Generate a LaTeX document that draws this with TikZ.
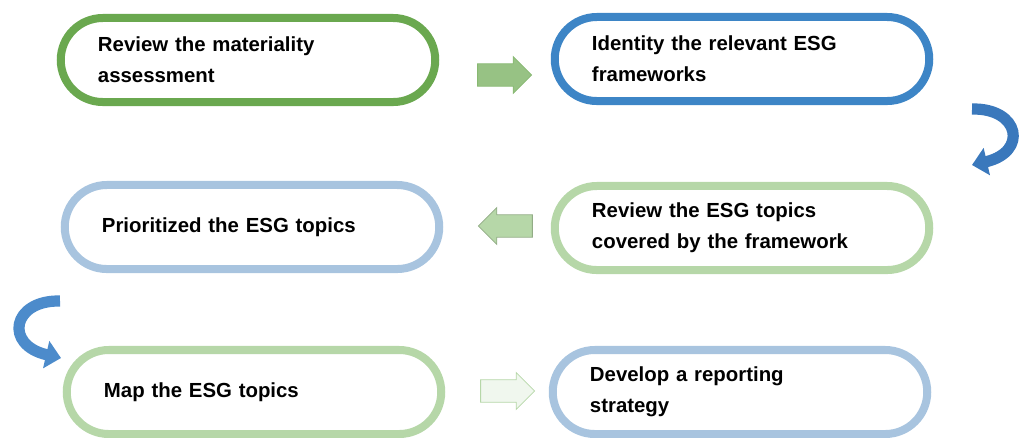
\documentclass[tikz,border=0pt]{standalone}
\usepackage{fontspec}
\setmainfont{Liberation Sans}
\usetikzlibrary{shapes.arrows,arrows.meta,positioning}
\definecolor{darkgreen}{HTML}{6AA84F}
\definecolor{darkblue}{HTML}{3D85C6}
\definecolor{paleblue}{HTML}{A8C4DF}
\definecolor{palegreen}{HTML}{B6D7A8}
\definecolor{curveblue}{HTML}{3A78BC}
\definecolor{curveblue2}{HTML}{4C8BCB}
\begin{document}
\begin{tikzpicture}[x=0.025cm,y=-0.025cm,
	stepbox/.style={draw,line width=0.2cm,rounded corners=1.05cm,fill=white,
		minimum height=2.1cm,text width=7.5cm,inner xsep=0.93cm,align=left,
		font=\fontsize{14.5}{22}\selectfont\bfseries},
	blockarrow/.style={single arrow,draw,line width=0.6pt,inner xsep=0pt,inner ysep=0.27cm,
		minimum height=1.35cm,single arrow head extend=0.18cm},
	curvearrow/.style={line width=0.28cm,-{Triangle[width=0.68cm,length=0.38cm]}}]
	\useasboundingbox (0,0) rectangle (1021,437);
	% the six steps
	\node[stepbox,draw=darkgreen] (review) at (248,60) {Review the materiality\\assessment};
	\node[stepbox,draw=darkblue] (identify) at (742,59) {Identity the relevant ESG\\frameworks};
	\node[stepbox,draw=paleblue] (prioritize) at (252,227) {Prioritized the ESG topics};
	\node[stepbox,draw=palegreen] (topics) at (742,228) {Review the ESG topics\\covered by the framework};
	\node[stepbox,draw=palegreen] (map) at (254,392) {Map the ESG topics};
	\node[stepbox,draw=paleblue] (develop) at (740,392) {Develop a reporting\\strategy};
	% straight arrows
	\node[blockarrow,draw=darkgreen!80,fill=darkgreen!70] (arrowA) at (499,75) {};
	\node[blockarrow,draw=palegreen!80!black,fill=palegreen,shape border rotate=180] (arrowB) at (511,226) {};
	\node[blockarrow,draw=palegreen,fill=palegreen!20] (arrowC) at (502,391) {};
	% curved arrows
	\coordinate (turnAs) at (972,109);
	\coordinate (turnAe) at (972,165);
	\coordinate (turnBs) at (60,301);
	\coordinate (turnBe) at (61,358);
	\draw[curvearrow,curveblue] (turnAs) .. controls (1020,108) and (1028,152) .. (turnAe);
	\draw[curvearrow,curveblue2] (turnBs) .. controls (12,300) and (4,345) .. (turnBe);
\end{tikzpicture}
\end{document}
